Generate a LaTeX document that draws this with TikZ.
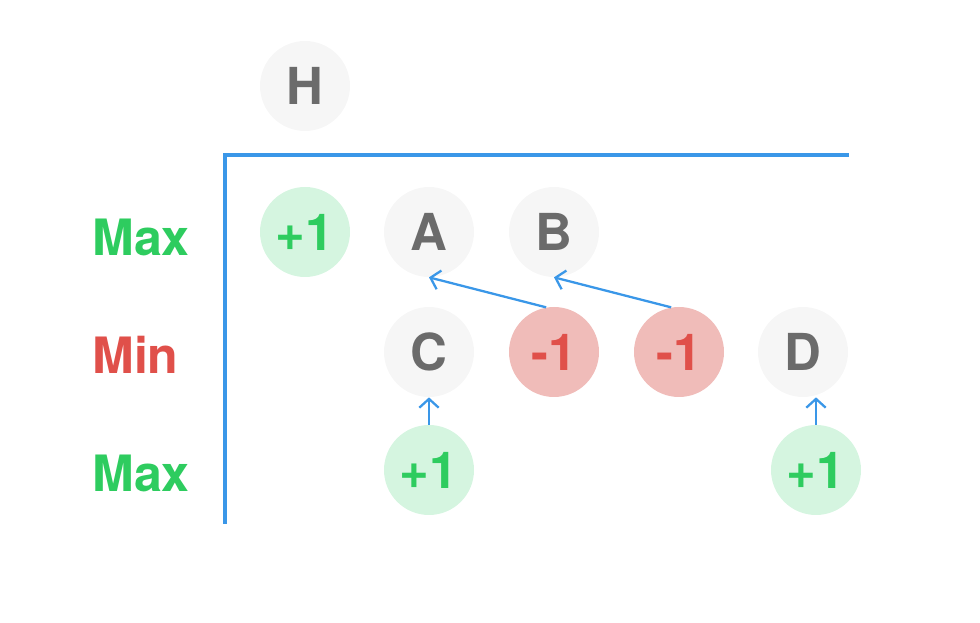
\documentclass[tikz,border=0pt]{standalone}
\usepackage{fontspec}
\setmainfont{TeX Gyre Heros}
\usepackage{xcolor}
\usetikzlibrary{arrows.meta}

\definecolor{maxgreen}{HTML}{2ECC5F}
\definecolor{maxfill}{HTML}{D5F5E0}
\definecolor{minred}{HTML}{E0504A}
\definecolor{minfill}{HTML}{F0BCB9}
\definecolor{nodegray}{HTML}{F6F6F6}
\definecolor{textgray}{HTML}{6B6B6B}
\definecolor{lineblue}{HTML}{3A97E8}

\tikzset{
	state/.style={circle, minimum size=1.8cm, inner sep=0pt, fill=nodegray, text=textgray, font=\fontsize{29}{32}\selectfont\bfseries},
	win/.style={state, fill=maxfill, text=maxgreen},
	loss/.style={state, fill=minfill, text=minred},
	level/.style={anchor=west, inner sep=0pt, font=\fontsize{28.5}{32}\selectfont\bfseries},
	back/.style={-{Straight Barb[length=5pt, width=11pt]}, lineblue, line width=1.3pt},
}

\begin{document}
\begin{tikzpicture}
	\useasboundingbox (0, 0) rectangle (19.6, 12.44);

	% History node
	\node[state] (h) at (6.10, 10.72) {H};

	% Level labels
	\node[level, text=maxgreen] (lmax1) at (1.84, 7.70) {Max};
	\node[level, text=minred] (lmin) at (1.84, 5.34) {Min};
	\node[level, text=maxgreen] (lmax2) at (1.84, 2.98) {Max};

	% Frame
	\coordinate (ftop) at (16.98, 9.34);
	\coordinate (fcorner) at (4.50, 9.34);
	\coordinate (fbottom) at (4.50, 1.96);
	\draw[lineblue, line width=2.2pt] (ftop) -- (fcorner) -- (fbottom);

	% First row (Max)
	\node[win] (p1) at (6.10, 7.80) {+1};
	\node[state] (a) at (8.58, 7.80) {A};
	\node[state] (b) at (11.08, 7.80) {B};

	% Second row (Min)
	\node[state] (c) at (8.58, 5.40) {C};
	\node[loss] (m1) at (11.08, 5.40) {-1};
	\node[loss] (m2) at (13.58, 5.40) {-1};
	\node[state] (d) at (16.06, 5.40) {D};

	% Third row (Max)
	\node[win] (p2) at (8.58, 3.04) {+1};
	\node[win] (p3) at (16.32, 3.04) {+1};

	% Backed up values
	\draw[back] (m1.100) -- (a.south);
	\draw[back] (m2.100) -- (b.south);
	\draw[back] (p2.north) -- (c.south);
	\draw[back] (p3.north) -- (p3.north |- d.south);
\end{tikzpicture}
\end{document}
